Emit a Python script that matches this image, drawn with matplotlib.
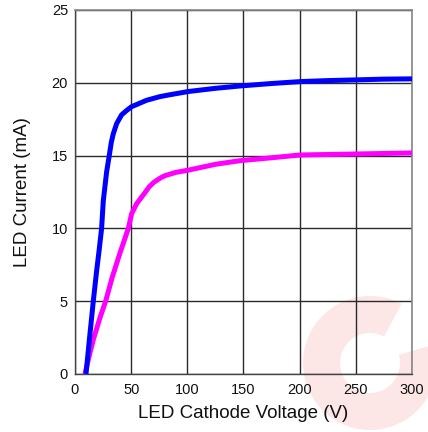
import matplotlib
matplotlib.use("Agg")
import matplotlib.pyplot as plt
from matplotlib.patches import Wedge

plt.rcParams['font.family'] = ['Liberation Sans', 'DejaVu Sans']

# LED current vs cathode voltage, two operating settings
blue_v = [9.8, 13.0, 16.3, 19.3, 21.5, 23.7, 25.2, 28.2, 30.5, 32.3, 34.1, 37.1,
          41.5, 46.0, 50.4, 63.8, 75.7, 84.6, 100.9, 125.0, 146.9, 175.0, 200.3,
          225.0, 250.8, 275.0, 300.0]
blue_i = [0.0, 2.5, 5.0, 7.1, 8.5, 10.0, 11.9, 13.9, 15.0, 15.9, 16.5, 17.2,
          17.8, 18.1, 18.36, 18.8, 19.05, 19.18, 19.4, 19.62, 19.78, 19.95, 20.08,
          20.15, 20.2, 20.25, 20.27]

magenta_v = [8.9, 12.5, 16.3, 22.0, 27.3, 33.0, 40.0, 47.5, 50.4, 54.9, 60.8,
             66.0, 70.0, 75.7, 80.0, 90.0, 100.9, 125.0, 146.9, 175.0, 200.3,
             250.8, 300.0]
magenta_i = [0.0, 1.2, 2.35, 3.8, 5.0, 6.6, 8.3, 10.0, 11.0, 11.7, 12.3,
             12.85, 13.15, 13.45, 13.62, 13.85, 14.0, 14.4, 14.65, 14.85, 15.04,
             15.11, 15.18]

x_ticks = [0, 50, 100, 150, 200, 250, 300]
y_ticks = [0, 5, 10, 15, 20, 25]

fig = plt.figure(figsize=(4.28, 4.32), dpi=100)
ax = fig.add_axes([0.1752, 0.1343, 0.7874, 0.8426])
ax.patch.set_alpha(0)

# faint logo mark behind the plot
logo = Wedge((3.70, 0.69), 0.67, 62, 376, width=0.37,
             transform=fig.dpi_scale_trans, facecolor='#fde6e6',
             edgecolor='none', zorder=-1)
fig.patches.append(logo)

ax.plot(magenta_v, magenta_i, color='#ff00ff', lw=3.6, solid_capstyle='butt',
        solid_joinstyle='round', zorder=3)
ax.plot(blue_v, blue_i, color='#0000ff', lw=3.6, solid_capstyle='butt',
        solid_joinstyle='round', zorder=4)

ax.set_xlim(0, 300)
ax.set_ylim(0, 25)
ax.set_xticks(x_ticks)
ax.set_yticks(y_ticks)
ax.grid(True, color='#2a2a2a', lw=1.0)
ax.set_axisbelow(True)
ax.tick_params(length=0, labelsize=10.5, colors='#111111')
ax.tick_params(axis='x', pad=6.5)
ax.tick_params(axis='y', pad=5)

for side in ('left', 'bottom'):
    ax.spines[side].set_color('#444444')
    ax.spines[side].set_linewidth(1.0)
for side in ('top', 'right'):
    ax.spines[side].set_color('#888888')
    ax.spines[side].set_linewidth(1.2)

ax.set_xlabel('LED Cathode Voltage (V)', fontsize=13.5, color='#111111', labelpad=6)
ax.set_ylabel('LED Current (mA)', fontsize=13.5, color='#111111', labelpad=15)

fig.savefig('out.png', dpi=100)
